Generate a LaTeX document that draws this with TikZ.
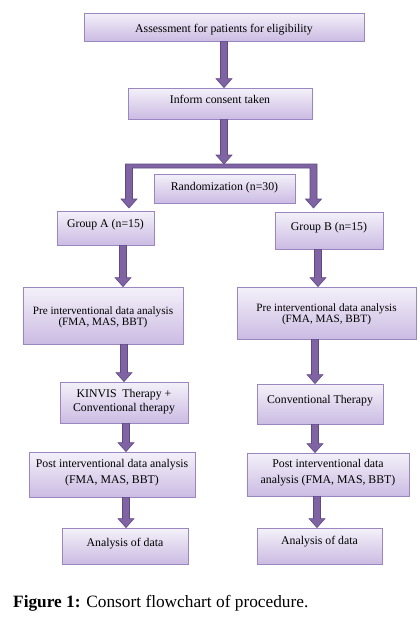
\documentclass[tikz,border=0pt]{standalone}
\usepackage{fontspec}
\setmainfont{Liberation Serif}
\usetikzlibrary{calc,shadows}
\definecolor{boxtop}{HTML}{F4F1F9}
\definecolor{boxbot}{HTML}{CBBBE3}
\definecolor{boxline}{HTML}{9A86C0}
\definecolor{arrfill}{HTML}{7F63A3}
\definecolor{arrline}{HTML}{5E4A86}
\newcommand\boxtxt[2]{\raisebox{#1}[0pt][0pt]{\begin{tabular}{@{}c@{}}#2\end{tabular}}}
\begin{document}
\begin{tikzpicture}[x=1pt,y=-1pt,
  box/.style={draw=boxline, line width=0.8pt, top color=boxtop, bottom color=boxbot,
    inner sep=0pt, font=\fontsize{11.8}{13}\selectfont,
    drop shadow={shadow xshift=1.2pt, shadow yshift=-1.2pt, fill=black, opacity=0.25}},
  barrow/.style={draw=arrline, fill=arrfill, line width=0.6pt, line join=miter,
    to path={let \p1=(\tikztostart), \p2=(\tikztotarget) in
      (\x1-3.5pt,\y1) -- (\x1-3.5pt,\y2+9pt) -- (\x1-8pt,\y2+9pt) -- (\x1,\y2)
      -- (\x1+8pt,\y2+9pt) -- (\x1+3.5pt,\y2+9pt) -- (\x1+3.5pt,\y1) -- cycle}},
  bracket/.style={draw=arrline, fill=arrfill, line width=0.6pt, line join=miter}]
\useasboundingbox (0,0) rectangle (420,624);

% boxes
\node[box, minimum width=280pt, minimum height=28pt] (b1) at (224,27)
  {\boxtxt{-5.5pt}{Assessment for patients for eligibility}};
\node[box, minimum width=184pt, minimum height=31pt] (b2) at (220,103.5)
  {\boxtxt{0pt}{Inform consent taken}};
\node[box, minimum width=141pt, minimum height=29pt] (rand) at (224.5,188.5)
  {\boxtxt{-2.5pt}{Randomization (n=30)}};
\node[box, minimum width=97pt, minimum height=34pt] (ga) at (105.5,228)
  {\boxtxt{0.5pt}{Group A (n=15)}};
\node[box, minimum width=108pt, minimum height=37pt] (gb) at (329,230.5)
  {\boxtxt{0pt}{Group B (n=15)}};
\node[box, minimum width=160pt, minimum height=57pt, font=\fontsize{11.2}{13}\selectfont] (pa) at (103,315.5)
  {\boxtxt{-4.5pt}{Pre interventional data analysis\\[-1.3pt] (FMA, MAS, BBT)}};
\node[box, minimum width=179pt, minimum height=52pt, font=\fontsize{11.2}{13}\selectfont] (pb) at (326.5,313)
  {\boxtxt{-4pt}{Pre interventional data analysis\\[-1.3pt] (FMA, MAS, BBT)}};
\node[box, minimum width=128pt, minimum height=41pt] (ka) at (124,402.5)
  {\boxtxt{-2pt}{KINVIS\ \ Therapy +\\[1pt] Conventional therapy}};
\node[box, minimum width=126pt, minimum height=40pt] (kb) at (320,404)
  {\boxtxt{0.5pt}{Conventional Therapy}};
\node[box, minimum width=166pt, minimum height=45pt] (qa) at (112,474.5)
  {\boxtxt{-1.5pt}{Post interventional data analysis\\[3.7pt] (FMA, MAS, BBT)}};
\node[box, minimum width=162pt, minimum height=43pt] (qb) at (328,474.5)
  {\boxtxt{-1.5pt}{Post interventional data\\[3.7pt] analysis (FMA, MAS, BBT)}};
\node[box, minimum width=126pt, minimum height=36pt] (ra) at (125,546)
  {\boxtxt{-0.5pt}{Analysis of data}};
\node[box, minimum width=125pt, minimum height=36pt] (rb) at (319.5,546)
  {\boxtxt{1.5pt}{Analysis of data}};

% split point of the randomization bracket
\coordinate (split) at (224,164);

% arrows
\draw[barrow] (b1.south) to (b2.north);
\draw[barrow] ([xshift=4pt]b2.south) to (split);
\draw[bracket] (125.5,164) -- (317,164) -- (317,199) -- (321.5,199) -- (313.5,208)
  -- (305.5,199) -- (310,199) -- (310,168) -- (132.5,168) -- (132.5,199)
  -- (137,199) -- (129,208) -- (121,199) -- (125.5,199) -- cycle;
\draw[barrow] ([xshift=17.5pt]ga.south) to (pa.north);
\draw[barrow] ([xshift=-11pt]gb.south) to (pb.north);
\draw[barrow] ([xshift=21pt]pa.south) to (ka.north);
\draw[barrow] ([xshift=-11.5pt]pb.south) to (kb.north);
\draw[barrow] ([xshift=2pt]ka.south) to (qa.north);
\draw[barrow] ([xshift=-5pt]kb.south) to (qb.north);
\draw[barrow] ([xshift=14pt]qa.south) to (ra.north);
\draw[barrow] ([xshift=-11pt]qb.south) to (rb.north);

% caption
\node[anchor=base west, inner sep=0pt, font=\fontsize{17.3}{20}\selectfont] (cap) at (13,607)
  {\textbf{Figure 1:} Consort flowchart of procedure.};
\end{tikzpicture}
\end{document}
